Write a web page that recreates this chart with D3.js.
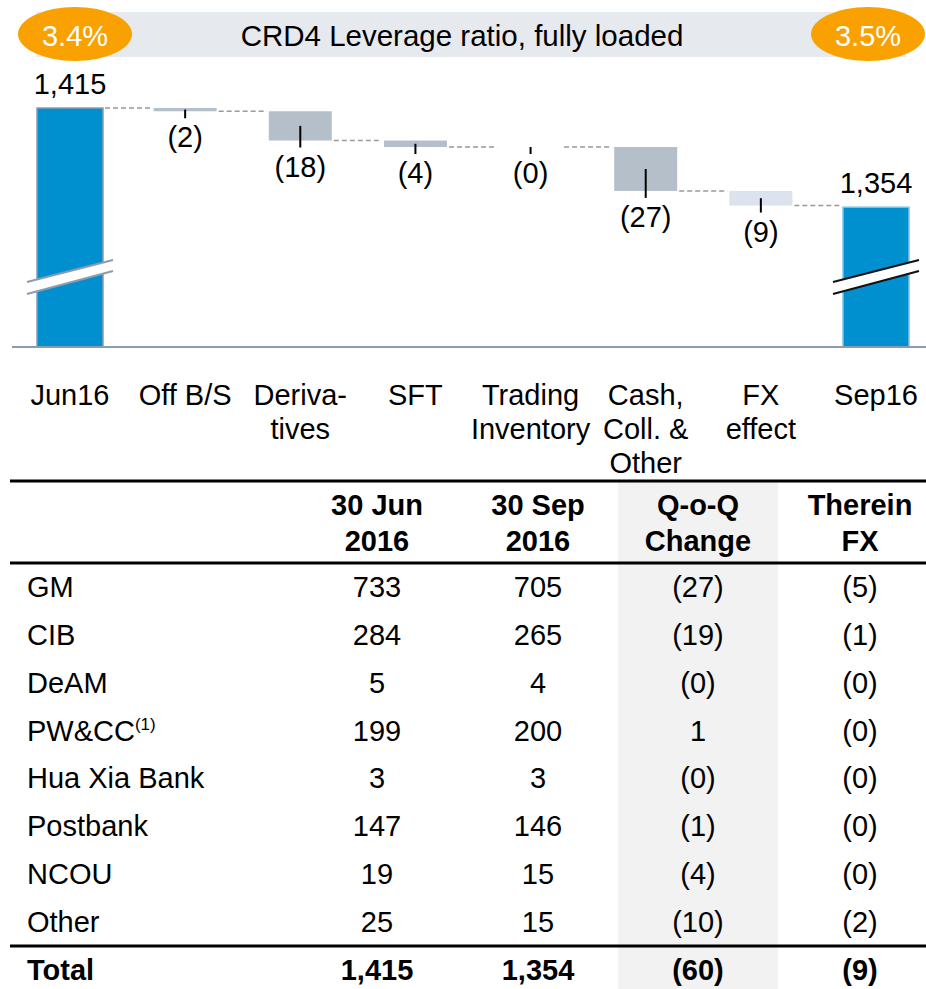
<!DOCTYPE html>
<html>
<head>
<meta charset="utf-8">
<script src="https://cdn.jsdelivr.net/npm/d3@7"></script>
<style>
  body { margin: 0; background: #fff; }
  svg { display: block; font-family: 'Liberation Sans', Arial, sans-serif; }
</style>
</head>
<body>
<div id="chart"></div>
<script>
(function() {
  let width = 926,
  height = 989

  // waterfall data
  let categories = ['Jun16', 'Off B/S', 'Derivatives', 'SFT', 'Trading Inventory', 'Cash, Coll. & Other', 'FX effect', 'Sep16']
  let categoryLines = [['Jun16'], ['Off B/S'], ['Deriva-', 'tives'], ['SFT'], ['Trading', 'Inventory'], ['Cash,', 'Coll. &', 'Other'], ['FX', 'effect'], ['Sep16']]
  let startValue = 1415
  let endValue = 1354
  let deltas = [-2, -18, -4, -0, -27, -9]
  let ratioStart = '3.4%', ratioEnd = '3.5%'

  // table data
  let segments = ['GM', 'CIB', 'DeAM', 'PW&CC', 'Hua Xia Bank', 'Postbank', 'NCOU', 'Other']
  let jun16 = [733, 284, 5, 199, 3, 147, 19, 25]
  let sep16 = [705, 265, 4, 200, 3, 146, 15, 15]
  let qoq = [-27, -19, -0, 1, -0, -1, -4, -10]
  let fxPart = [-5, -1, -0, -0, -0, -0, -0, -2]
  let totals = [1415, 1354, -60, -9]
  let headers = [['30 Jun', '2016'], ['30 Sep', '2016'], ['Q-o-Q', 'Change'], ['Therein', 'FX']]

  let fmt = (v) => {
    let s = d3.format(',')(Math.abs(v))
    return (v < 0 || Object.is(v, -0)) ? '(' + s + ')' : s
  }

  let fs = 29

  let svg = d3.select('#chart')
    .append('svg')
    .attr('width', width)
    .attr('height', height)

  // ---- header band
  svg.append('rect')
    .attr('x', 36).attr('y', 12).attr('width', 870).attr('height', 45)
    .attr('fill', '#E6E9EE')
  svg.append('text')
    .attr('x', 462).attr('y', 46)
    .attr('text-anchor', 'middle')
    .attr('font-size', 29.5)
    .text('CRD4 Leverage ratio, fully loaded')

  let pills = svg.selectAll('.pill')
    .data([{ x: 75, t: ratioStart }, { x: 868, t: ratioEnd }])
    .enter().append('g')
    .attr('transform', (d) => 'translate(' + d.x + ',34)')
  pills.append('ellipse')
    .attr('rx', 57).attr('ry', 27)
    .attr('fill', '#F9A100')
  pills.append('text')
    .attr('y', 12)
    .attr('text-anchor', 'middle')
    .attr('font-size', fs)
    .attr('fill', '#fff')
    .text((d) => d.t)

  // ---- waterfall
  let x = d3.scalePoint().domain(categories).range([70, 876])
  let floorValue = 1268
  let y = d3.scaleLinear().domain([floorValue, startValue]).range([347, 108])

  let steps = []
  let run = startValue
  deltas.forEach((d, i) => {
    steps.push({ cat: categories[i + 1], from: run, to: run + d, v: d })
    run += d
  })

  let totalW = 66, deltaW = 63

  // connectors
  let levels = [startValue].concat(steps.map((s) => s.to))
  let conn = []
  for (let i = 0; i < categories.length - 1; i++) {
    let w1 = i === 0 ? totalW : deltaW
    let w2 = i === categories.length - 2 ? totalW : deltaW
    conn.push({ x1: x(categories[i]) + w1 / 2, x2: x(categories[i + 1]) - w2 / 2, v: levels[i] })
  }
  svg.selectAll('.conn')
    .data(conn)
    .enter().append('line')
    .attr('x1', (d) => d.x1 + 2).attr('x2', (d) => d.x2 - 2)
    .attr('y1', (d) => y(d.v)).attr('y2', (d) => y(d.v))
    .attr('stroke', '#9a9a9a')
    .attr('stroke-width', 1.5)
    .attr('stroke-dasharray', '5,3')

  // total bars
  let totalBars = [{ cat: categories[0], v: startValue }, { cat: categories[categories.length - 1], v: endValue }]
  svg.selectAll('.total')
    .data(totalBars)
    .enter().append('rect')
    .attr('x', (d) => x(d.cat) - totalW / 2)
    .attr('width', totalW)
    .attr('y', (d) => y(d.v))
    .attr('height', (d) => y(floorValue) - y(d.v))
    .attr('fill', '#0090D0')
    .attr('stroke', (d, i) => i === 0 ? '#8C9BB0' : '#7FC4E6')
    .attr('stroke-width', 1.5)

  svg.selectAll('.totalLabel')
    .data(totalBars)
    .enter().append('text')
    .attr('x', (d) => x(d.cat))
    .attr('y', (d) => y(d.v) - 14)
    .attr('text-anchor', 'middle')
    .attr('font-size', fs)
    .text((d) => fmt(d.v))

  // axis break marks
  let breakValue = 1311
  totalBars.forEach((d, i) => {
    let cx = x(d.cat), cy = y(breakValue)
    let g = svg.append('g')
    g.append('path')
      .attr('d', 'M' + (cx - 43) + ',' + (cy + 5) + 'L' + (cx + 43) + ',' + (cy - 17) +
        'L' + (cx + 43) + ',' + (cy - 6) + 'L' + (cx - 43) + ',' + (cy + 17) + 'Z')
      .attr('fill', '#fff')
    let col = i === 0 ? '#8C9BB0' : '#111'
    g.append('line')
      .attr('x1', cx - 43).attr('y1', cy + 5).attr('x2', cx + 43).attr('y2', cy - 17)
      .attr('stroke', col).attr('stroke-width', 2)
    g.append('line')
      .attr('x1', cx - 43).attr('y1', cy + 17).attr('x2', cx + 43).attr('y2', cy - 6)
      .attr('stroke', col).attr('stroke-width', 2)
  })

  // delta bars
  svg.selectAll('.delta')
    .data(steps)
    .enter().append('rect')
    .attr('x', (d) => x(d.cat) - deltaW / 2)
    .attr('width', deltaW)
    .attr('y', (d) => y(Math.max(d.from, d.to)))
    .attr('height', (d) => Math.abs(y(d.to) - y(d.from)))
    .attr('fill', (d) => d.cat === 'FX effect' ? '#DCE3EE' : '#B4BFCA')

  svg.selectAll('.tick')
    .data(steps)
    .enter().append('line')
    .attr('x1', (d) => x(d.cat)).attr('x2', (d) => x(d.cat))
    .attr('y1', (d) => (y(d.from) + y(d.to)) / 2)
    .attr('y2', (d) => y(Math.min(d.from, d.to)) + 7)
    .attr('stroke', '#000')
    .attr('stroke-width', 2)

  svg.selectAll('.deltaLabel')
    .data(steps)
    .enter().append('text')
    .attr('x', (d) => x(d.cat))
    .attr('y', (d) => y(Math.min(d.from, d.to)) + 36)
    .attr('text-anchor', 'middle')
    .attr('font-size', fs)
    .text((d) => fmt(d.v))

  // baseline
  svg.append('line')
    .attr('x1', 12).attr('x2', width)
    .attr('y1', y(floorValue)).attr('y2', y(floorValue))
    .attr('stroke', '#8C9BB0')
    .attr('stroke-width', 2)

  // category labels
  svg.selectAll('.cat')
    .data(categories)
    .enter().append('text')
    .attr('x', (d) => x(d))
    .attr('y', 405)
    .attr('text-anchor', 'middle')
    .attr('font-size', fs)
    .selectAll('tspan')
    .data((d, i) => categoryLines[i])
    .enter().append('tspan')
    .attr('x', function() { return this.parentNode.getAttribute('x') })
    .attr('dy', (d, i) => i === 0 ? 0 : 34)
    .text((d) => d)

  // ---- table
  let colX = [377, 538, 698, 860]
  svg.append('rect')
    .attr('x', 618).attr('y', 481).attr('width', 160).attr('height', height - 481)
    .attr('fill', '#F2F2F2')

  let rules = [481, 563, 946]
  svg.selectAll('.rule')
    .data(rules)
    .enter().append('line')
    .attr('x1', 10).attr('x2', width)
    .attr('y1', (d) => d).attr('y2', (d) => d)
    .attr('stroke', '#000')
    .attr('stroke-width', 3)

  headers.forEach((h, c) => {
    h.forEach((t, k) => {
      svg.append('text')
        .attr('x', colX[c]).attr('y', 515 + k * 36)
        .attr('text-anchor', 'middle')
        .attr('font-size', fs)
        .attr('font-weight', 'bold')
        .text(t)
    })
  })

  let rowY = d3.scalePoint().domain(segments).range([597, 932])
  let cols = [jun16, sep16, qoq, fxPart]

  let rows = svg.selectAll('.row')
    .data(segments)
    .enter().append('g')
    .attr('transform', (d) => 'translate(0,' + rowY(d) + ')')

  let rowLabel = rows.append('text')
    .attr('x', 27)
    .attr('font-size', fs)
    .text((d) => d)
  rowLabel.filter((d) => d === 'PW&CC')
    .append('tspan')
    .attr('font-size', 17)
    .attr('dy', -11)
    .text('(1)')

  cols.forEach((arr, c) => {
    rows.append('text')
      .attr('x', colX[c])
      .attr('text-anchor', 'middle')
      .attr('font-size', fs)
      .text((d, i) => fmt(arr[i]))
  })

  svg.append('text')
    .attr('x', 27).attr('y', 980)
    .attr('font-size', fs)
    .attr('font-weight', 'bold')
    .text('Total')
  svg.selectAll('.tot')
    .data(totals)
    .enter().append('text')
    .attr('x', (d, i) => colX[i]).attr('y', 980)
    .attr('text-anchor', 'middle')
    .attr('font-size', fs)
    .attr('font-weight', 'bold')
    .text((d) => fmt(d))
})()
</script>
</body>
</html>
